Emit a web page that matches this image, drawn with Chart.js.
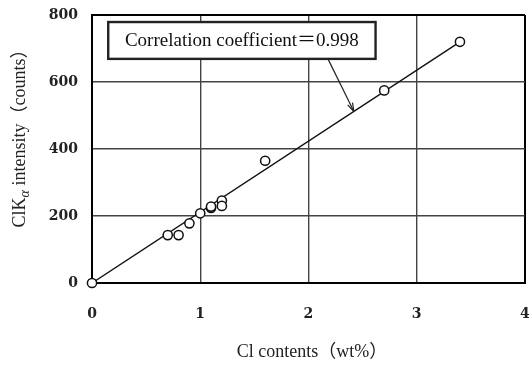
<!DOCTYPE html>
<html>
<head>
<meta charset="utf-8">
<script src="https://cdn.jsdelivr.net/npm/chart.js@4"></script>
<style>
html, body { margin: 0; padding: 0; background: #fff; }
#wrap { width: 531px; height: 365px; }
</style>
</head>
<body>
<div id="wrap"><canvas id="chart" width="531" height="365"></canvas></div>
<script>
const clContent   = [0, 0.7, 0.8, 0.9, 1.0, 1.1, 1.1, 1.2, 1.2, 1.6, 2.7, 3.4];
const clIntensity = [0, 143, 143, 178, 208, 224, 228, 246, 230, 365, 575, 720];

// regression line end points
const fitX = [0, 3.4];
const fitY = [0, 720];

const xTicks = [0, 1, 2, 3, 4];
const yTicks = [0, 200, 400, 600, 800];

const noteText = 'Correlation coefficient\uFF1D0.998';
const xTitle = 'Cl contents\uFF08wt%\uFF09';
const yTitleParts = ['ClK', '\u03B1', ' intensity\uFF08counts\uFF09'];

const SERIF = '"Liberation Serif", "Noto Sans CJK JP", serif';
const TICK_FONT = '"DejaVu Serif", serif';

const gridColor = ctx => {
    const v = ctx.tick.value;
    const s = ctx.scale;
    return (v === s.min || v === s.max) ? '#000' : '#444';
};
const gridWidth = ctx => {
    const v = ctx.tick.value;
    const s = ctx.scale;
    return (v === s.min || v === s.max) ? 2 : 1.4;
};

// drop the extra room chart.js keeps for the edge tick labels
const noLabelPadding = s => {
    s.paddingLeft = 0;
    s.paddingRight = 0;
    s.paddingTop = 0;
    s.paddingBottom = 0;
};

const annotate = {
    id: 'annotate',
    afterDatasetsDraw(chart) {
        const { ctx, scales: { x, y } } = chart;
        ctx.save();

        // note box
        const bx0 = x.getPixelForValue(0.15), bx1 = x.getPixelForValue(2.62);
        const by0 = y.getPixelForValue(779), by1 = y.getPixelForValue(669);
        ctx.fillStyle = '#fff';
        ctx.fillRect(bx0, by0, bx1 - bx0, by1 - by0);
        ctx.strokeStyle = '#222';
        ctx.lineWidth = 2.4;
        ctx.strokeRect(bx0, by0, bx1 - bx0, by1 - by0);
        ctx.fillStyle = '#111';
        ctx.font = '19px ' + SERIF;
        ctx.textBaseline = 'middle';
        ctx.textAlign = 'center';
        ctx.fillText(noteText, (bx0 + bx1) / 2, (by0 + by1) / 2 + 1);

        // arrow from box to line
        const ax0 = x.getPixelForValue(2.18), ay0 = y.getPixelForValue(669);
        const ax1 = x.getPixelForValue(2.42), ay1 = y.getPixelForValue(512);
        ctx.strokeStyle = '#222';
        ctx.lineWidth = 1.2;
        ctx.beginPath();
        ctx.moveTo(ax0, ay0);
        ctx.lineTo(ax1, ay1);
        ctx.stroke();
        const ang = Math.atan2(ay1 - ay0, ax1 - ax0);
        ctx.beginPath();
        ctx.moveTo(ax1, ay1);
        ctx.lineTo(ax1 - 9 * Math.cos(ang - 0.3), ay1 - 9 * Math.sin(ang - 0.3));
        ctx.moveTo(ax1, ay1);
        ctx.lineTo(ax1 - 9 * Math.cos(ang + 0.3), ay1 - 9 * Math.sin(ang + 0.3));
        ctx.stroke();

        // x title
        ctx.fillStyle = '#222';
        ctx.font = '18px ' + SERIF;
        ctx.textAlign = 'center';
        ctx.textBaseline = 'middle';
        ctx.fillText(xTitle, 312, 352);

        // y title with subscript alpha
        ctx.translate(20, 134);
        ctx.rotate(-Math.PI / 2);
        const mainFont = '18px ' + SERIF;
        const subFont = 'italic 14px ' + SERIF;
        ctx.font = mainFont;
        const w0 = ctx.measureText(yTitleParts[0]).width;
        const w2 = ctx.measureText(yTitleParts[2]).width;
        ctx.font = subFont;
        const w1 = ctx.measureText(yTitleParts[1]).width;
        let px = -(w0 + w1 + w2) / 2;
        ctx.textAlign = 'left';
        ctx.font = mainFont;
        ctx.fillText(yTitleParts[0], px, 0);
        px += w0;
        ctx.font = subFont;
        ctx.fillText(yTitleParts[1], px, 5);
        px += w1;
        ctx.font = mainFont;
        ctx.fillText(yTitleParts[2], px, 0);

        ctx.restore();
    }
};

new Chart(document.getElementById('chart'), {
    type: 'scatter',
    data: {
        datasets: [
            {
                type: 'scatter',
                data: clContent.map((v, i) => ({ x: v, y: clIntensity[i] })),
                pointRadius: 4.6,
                pointBorderWidth: 1.5,
                pointBorderColor: '#111',
                pointBackgroundColor: '#fff',
                clip: false,
                order: 1
            },
            {
                type: 'line',
                data: fitX.map((v, i) => ({ x: v, y: fitY[i] })),
                borderColor: '#111',
                borderWidth: 1.4,
                pointRadius: 0,
                fill: false,
                order: 2
            }
        ]
    },
    options: {
        responsive: false,
        animation: false,
        events: [],
        layout: { padding: { top: 15, right: 6, left: 0, bottom: 0 } },
        plugins: { legend: { display: false }, tooltip: { enabled: false } },
        scales: {
            x: {
                type: 'linear',
                min: 0,
                max: 4,
                afterBuildTicks: s => { s.ticks = xTicks.map(v => ({ value: v })); },
                afterFit: s => { s.height = 82; noLabelPadding(s); },
                grid: { color: gridColor, lineWidth: gridWidth, drawTicks: false },
                border: { display: true, color: '#000', width: 2 },
                ticks: {
                    padding: 23,
                    color: '#222',
                    font: { family: TICK_FONT, size: 14, weight: 'bold' }
                }
            },
            y: {
                type: 'linear',
                min: 0,
                max: 800,
                afterBuildTicks: s => { s.ticks = yTicks.map(v => ({ value: v })); },
                afterFit: s => { s.width = 92; noLabelPadding(s); },
                grid: { color: gridColor, lineWidth: gridWidth, drawTicks: false },
                border: { display: true, color: '#000', width: 2 },
                ticks: {
                    padding: 14,
                    color: '#222',
                    font: { family: TICK_FONT, size: 14, weight: 'bold' }
                }
            }
        }
    },
    plugins: [annotate]
});
</script>
</body>
</html>
